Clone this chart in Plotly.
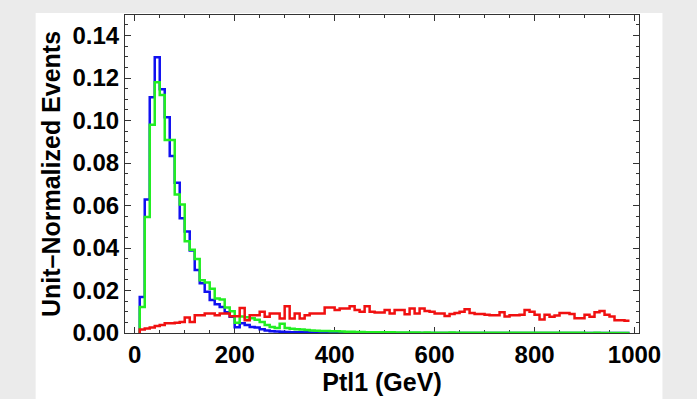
import plotly.graph_objects as go

# ---- data -------------------------------------------------------------
BIN_WIDTH = 10
bin_lo = list(range(10, 990, BIN_WIDTH))  # left edges of the 98 bins (GeV)

blue = [0.0170, 0.0628, 0.1110, 0.1298, 0.1148, 0.1016, 0.0833, 0.0707, 0.0540, 0.0478,
        0.0388, 0.0296, 0.0234, 0.0194, 0.0155, 0.0135, 0.0122, 0.0098, 0.0076, 0.0027,
        0.0046, 0.0038, 0.0028, 0.0026, 0.0018, 0.0012, 0.0008, 0.0007, 0.0006, 0.0005,
        0.0004, 0.0004, 0.0003, 0.0003, 0.0002, 0.0002, 0.0002, 0.0001, 0.0001, 0.0001,
        0.0001] + [0.0] * 57

green = [0.0122, 0.0546, 0.0980, 0.1180, 0.1120, 0.0908, 0.0908, 0.0652, 0.0605, 0.0432,
         0.0392, 0.0348, 0.0248, 0.0238, 0.0208, 0.0162, 0.0158, 0.0120, 0.0102, 0.0048,
         0.0078, 0.0074, 0.0070, 0.0062, 0.0052, 0.0038, 0.0028, 0.0024, 0.0044, 0.0024,
         0.0020, 0.0018, 0.0016, 0.0014, 0.0012, 0.0011, 0.0010, 0.0009, 0.0008, 0.0008,
         0.0007, 0.0006, 0.0006, 0.0005, 0.0005, 0.0004, 0.0004, 0.0004, 0.0003, 0.0003,
         0.0003, 0.0002, 0.0002, 0.0002, 0.0002, 0.0002, 0.0001, 0.0002, 0.0001, 0.0001,
         0.0001, 0.0001, 0.0002, 0.0001, 0.0001, 0.0001, 0.0001, 0.0001, 0.0001, 0.0001,
         0.0001, 0.0001, 0.0001, 0.0001, 0.0001, 0.0001, 0.0001, 0.0001, 0.0001, 0.0001,
         0.0001, 0.0001, 0.0001, 0.0001, 0.0001, 0.0001, 0.0001, 0.0001, 0.0001, 0.0000,
         0.0000, 0.0001, 0.0000, 0.0000, 0.0000, 0.0000, 0.0000, 0.0000]

red = [0.0016, 0.0021, 0.0026, 0.0033, 0.0038, 0.0046, 0.0046, 0.0048, 0.0052, 0.0073,
       0.0052, 0.0084, 0.0084, 0.0092, 0.0092, 0.0084, 0.0092, 0.0092, 0.0079, 0.0079,
       0.0118, 0.0060, 0.0084, 0.0084, 0.0100, 0.0076, 0.0092, 0.0092, 0.0068, 0.0126,
       0.0068, 0.0092, 0.0068, 0.0084, 0.0092, 0.0092, 0.0092, 0.0120, 0.0120, 0.0108,
       0.0115, 0.0115, 0.0126, 0.0108, 0.0100, 0.0126, 0.0100, 0.0096, 0.0096, 0.0108,
       0.0092, 0.0108, 0.0108, 0.0088, 0.0115, 0.0092, 0.0115, 0.0104, 0.0100, 0.0092,
       0.0092, 0.0080, 0.0090, 0.0094, 0.0100, 0.0112, 0.0094, 0.0090, 0.0090, 0.0086,
       0.0084, 0.0084, 0.0098, 0.0078, 0.0084, 0.0084, 0.0086, 0.0108, 0.0100, 0.0086,
       0.0064, 0.0086, 0.0076, 0.0082, 0.0094, 0.0094, 0.0090, 0.0070, 0.0070, 0.0086,
       0.0076, 0.0098, 0.0104, 0.0086, 0.0078, 0.0060, 0.0060, 0.0058]

x_ticks = [0, 200, 400, 600, 800, 1000]
x_title = "Ptl1 (GeV)"
y_title = "Unit\u2013Normalized Events"


def outline(values):
    xs = [bin_lo[0]] + bin_lo + [bin_lo[-1] + BIN_WIDTH]
    ys = [0.0] + values + [values[-1]]
    return xs, ys


fig = go.Figure()
for vals, col in [(blue, "#1010f0"), (green, "#22ee22"), (red, "#f01010")]:
    xs, ys = outline(vals)
    fig.add_trace(go.Scatter(x=xs, y=ys, mode="lines", line=dict(color=col, width=2.5, shape="hv"),
                             showlegend=False, hoverinfo="skip"))

tick_font = dict(family="Liberation Sans, Arial, sans-serif", size=24, color="black", weight="bold")
title_font = dict(family="Liberation Sans, Arial, sans-serif", size=25, color="black", weight="bold")

fig.update_xaxes(range=[-19.5, 1009], tickvals=x_ticks, ticks="inside", ticklen=6, tickwidth=1,
                 tickcolor="#333", showline=True, linecolor="#333", linewidth=1, mirror="ticks",
                 showgrid=False, zeroline=False, layer="below traces", tickfont=tick_font,
                 automargin=False,
                 minor=dict(dtick=50, ticks="inside", ticklen=3, tickcolor="#333", showgrid=False),
                 title=dict(text=x_title, font=title_font, standoff=6))
fig.update_yaxes(range=[0, 0.1497], dtick=0.02, tickformat=".2f", ticks="inside", ticklen=6, tickwidth=1,
                 tickcolor="#333", showline=True, linecolor="#333", linewidth=1, mirror="ticks",
                 showgrid=False, zeroline=False, layer="below traces", tickfont=tick_font,
                 automargin=False,
                 minor=dict(dtick=0.005, ticks="inside", ticklen=3, tickcolor="#333", showgrid=False),
                 title=dict(text=y_title, font=title_font, standoff=4))

fig.add_shape(type="rect", xref="paper", yref="paper", x0=-0.1738, x1=1.0456, y0=-0.3, y1=1.0063,
              fillcolor="white", line=dict(width=0), layer="below")

fig.update_layout(width=697, height=399, margin=dict(l=125, r=58, t=15, b=66),
                  paper_bgcolor="#ebebeb", plot_bgcolor="white")

fig.write_html("out.html", config={"displayModeBar": False},
               post_script="document.body.style.margin='0';document.body.style.overflow='hidden';")
